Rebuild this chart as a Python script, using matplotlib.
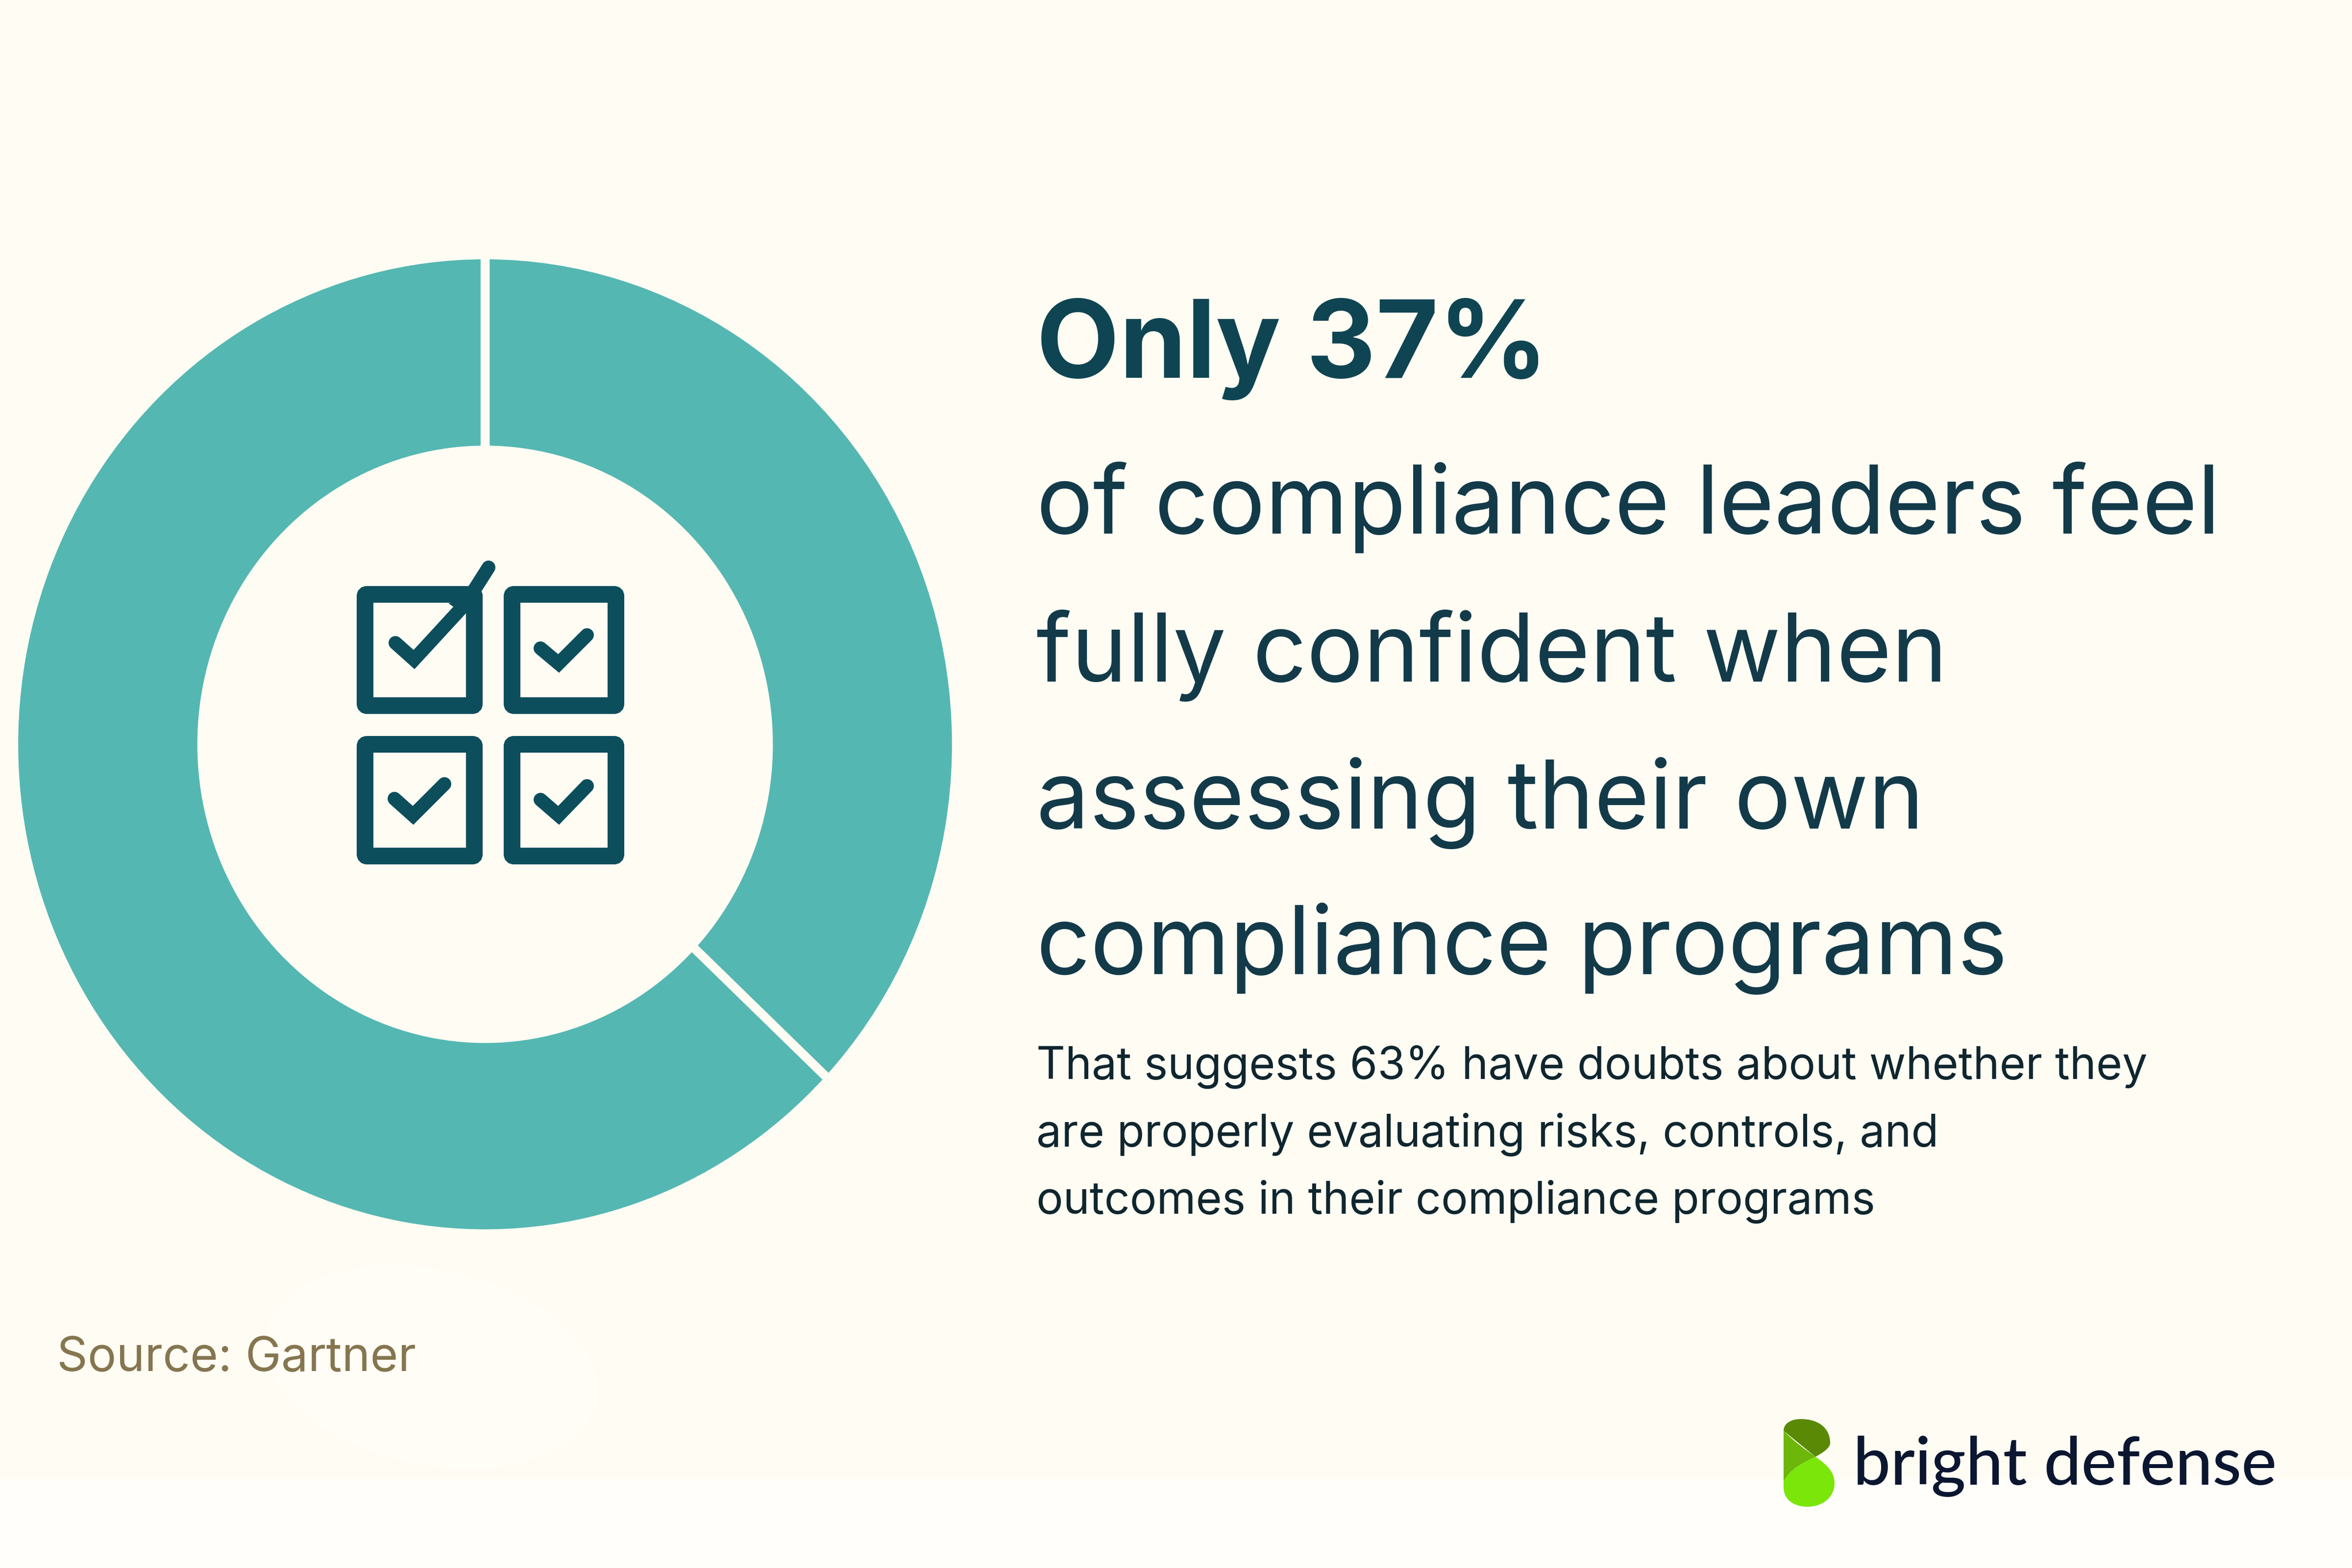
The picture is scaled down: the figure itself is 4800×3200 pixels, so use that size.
import matplotlib
matplotlib.use("Agg")
import matplotlib.pyplot as plt
from matplotlib.patches import FancyBboxPatch, PathPatch, Rectangle, Polygon, Ellipse
from matplotlib.path import Path

W, H = 4800, 3200
BG = "#FFFCF3"
BG2 = "#FFFEFA"
TEAL = "#55B7B2"
DARK = "#0D4E5D"
HEAD = "#0F4552"
SUB = "#133A49"
BODY = "#10262E"

slice_labels = ["Fully confident", "Have doubts"]
slice_values = [37, 63]

headline = "Only 37%"
sub_lines = ["of compliance leaders feel", "fully confident when",
             "assessing their own", "compliance programs"]
body_lines = ["That suggests 63% have doubts about whether they",
              "are properly evaluating risks, controls, and",
              "outcomes in their compliance programs"]
source = "Source: Gartner"
brand = "bright defense"

fig = plt.figure(figsize=(16, 16 * H / W), dpi=300, facecolor=BG)
bg = fig.add_axes([0, 0, 1, 1])
bg.set_xlim(0, W); bg.set_ylim(H, 0); bg.axis("off")
bg.add_patch(Rectangle((0, 3018), W, H - 3018, fc=BG2, ec="none"))
bg.add_patch(Ellipse((880, 2790), 690, 400, angle=12, fc="#FFFDF5", ec="none"))

# donut (slightly taller than wide, as in the reference)
cx, cy, Rx, Ry = 990, 1519, 962, 999
ax = fig.add_axes([(cx - Rx) / W, 1 - (cy + Ry) / H, 2 * Rx / W, 2 * Ry / H])
ax.pie(slice_values, startangle=90, counterclock=False, radius=1, colors=[TEAL, TEAL],
       wedgeprops=dict(width=0.399, edgecolor=BG, linewidth=4.4))
ax.set_xlim(-1, 1); ax.set_ylim(-1, 1); ax.set_aspect("auto"); ax.axis("off")

# checkbox icon
boxes = [(729, 1197, 984, 1456), (1029, 1197, 1273, 1456),
         (729, 1503, 984, 1763), (1029, 1503, 1273, 1763)]
checks = [[(807, 1312), (845, 1346), (950, 1232), (997, 1158)],
          [(1103, 1323), (1140, 1354), (1198, 1296)],
          [(805, 1630), (843, 1664), (907, 1600)],
          [(1103, 1632), (1140, 1664), (1198, 1604)]]
for x0, y0, x1, y1 in boxes:
    bg.add_patch(FancyBboxPatch((x0 + 16, y0 + 16), x1 - x0 - 32, y1 - y0 - 32,
                                boxstyle="round,pad=0,rounding_size=4",
                                fc="none", ec=DARK, lw=34 * 72 / 300, zorder=4))
for pts in checks:
    codes = [Path.MOVETO] + [Path.LINETO] * (len(pts) - 1)
    bg.add_patch(PathPatch(Path(pts, codes), fc="none", ec=DARK, lw=28 * 72 / 300,
                           capstyle="round", joinstyle="miter", zorder=5))
bg.add_patch(Polygon([(915, 1231), (947, 1254), (952, 1225)], fc=DARK, ec="none", zorder=5))

# right text
FONT = "Inter"
def T(x, y, s, size, color, weight="normal", fam=FONT):
    bg.text(x, y, s, fontsize=size, color=color, fontweight=weight, family=fam,
            ha="left", va="baseline")

T(2115, 771, headline, 52.8, HEAD, "bold")
for y, s in zip([1089, 1391, 1691, 1988], sub_lines):
    T(2115, y, s, 46.3, SUB)
for y, s in zip([2202, 2340, 2477], body_lines):
    T(2115, y, s, 21.95, BODY)
T(116, 2798, source, 23.5, "#857650")

# logo
C = Path.CURVE4; L = Path.LINETO; M = Path.MOVETO
def blob(verts, codes, color):
    bg.add_patch(PathPatch(Path(verts, codes), fc=color, ec="none", zorder=3))
blob([(3640, 2920), (3640, 2905), (3655, 2896), (3675, 2896), (3712, 2896), (3735, 2915), (3735, 2945),
      (3735, 2955), (3720, 2965), (3705, 2973), (3640, 2920)],
     [M, C, C, C, C, C, C, C, C, C, L], "#5A8A05")
blob([(3640, 2920), (3665, 2945), (3680, 2955), (3705, 2973), (3680, 2985), (3650, 3000), (3640, 3025), (3640, 2920)],
     [M, C, C, C, C, C, C, L], "#6DB60A")
blob([(3705, 2973), (3730, 2990), (3744, 3005), (3744, 3027), (3744, 3055), (3720, 3075), (3689, 3075),
      (3660, 3075), (3640, 3060), (3640, 3035), (3640, 3025), (3640, 3015), (3665, 2990), (3705, 2973)],
     [M, C, C, C, C, C, C, C, C, C, L, C, C, C], "#7BE60A")
T(3782, 3030, brand, 32.6, "#0B1630", "medium", "Lato")

fig.savefig("out.png", dpi=300, facecolor=fig.get_facecolor())
